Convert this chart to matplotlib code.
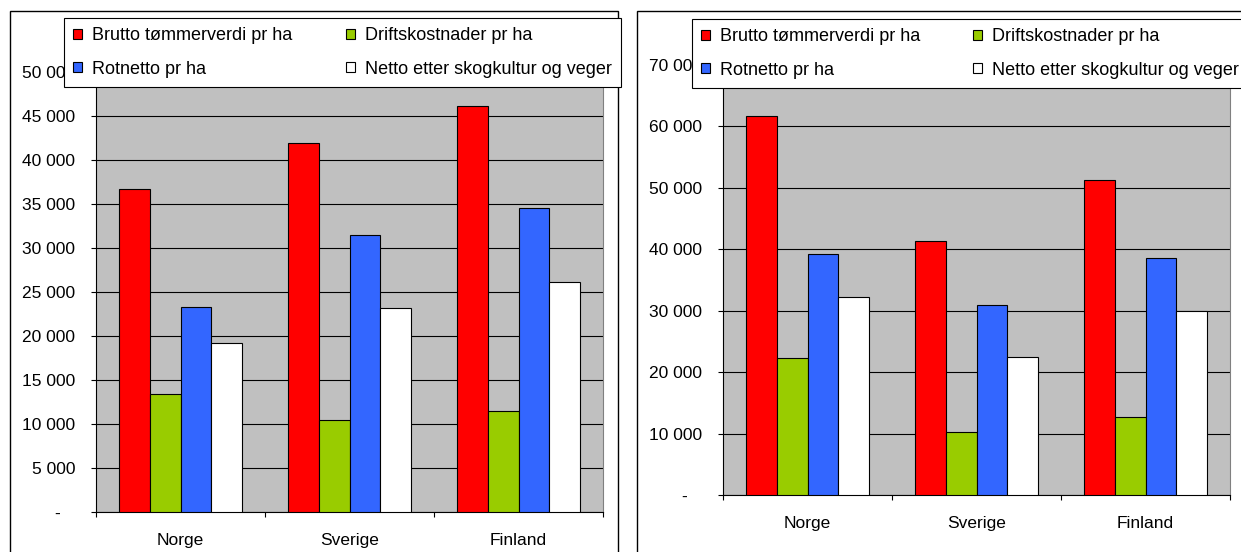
import matplotlib
matplotlib.use("Agg")
import matplotlib.pyplot as plt
import numpy as np
from matplotlib.patches import Patch, Rectangle
from matplotlib.ticker import FuncFormatter, MultipleLocator, FixedLocator

plt.rcParams['font.family'] = ['Liberation Sans', 'DejaVu Sans']

W, H = 1241, 552

countries = ["Norge", "Sverige", "Finland"]
series_names = ["Brutto tømmerverdi pr ha", "Driftskostnader pr ha",
                "Rotnetto pr ha", "Netto etter skogkultur og veger"]
series_colors = ["#FF0000", "#99CC00", "#3366FF", "#FFFFFF"]

# left chart (kr pr ha)
left_brutto = [36700, 41900, 46100]
left_drift = [13400, 10400, 11500]
left_rotnetto = [23300, 31500, 34600]
left_netto = [19200, 23200, 26100]

# right chart (kr pr ha)
right_brutto = [61700, 41300, 51300]
right_drift = [22300, 10200, 12700]
right_rotnetto = [39200, 30900, 38600]
right_netto = [32200, 22500, 29900]


def px_box(x0, y0, x1, y1):
    # pixel box (top-left origin) -> figure fraction [left, bottom, width, height]
    return [x0 / W, (H - y1) / H, (x1 - x0) / W, (y1 - y0) / H]


def fmt_tick(v, pos):
    if v == 0:
        return "-   "
    return f"{v:,.0f}".replace(",", " ")


def draw_chart(ax, series, ymax, ystep):
    x = np.arange(len(countries))
    bar_w = 0.183
    ax.set_facecolor("#C0C0C0")
    for i, vals in enumerate(series):
        ax.bar(x + (i - 1.5) * bar_w, vals, width=bar_w, color=series_colors[i],
               edgecolor="black", linewidth=0.8, zorder=3)
    ax.set_xlim(-0.5, len(countries) - 0.5)
    ax.set_ylim(0, ymax)
    ax.yaxis.set_major_locator(MultipleLocator(ystep))
    ax.yaxis.set_major_formatter(FuncFormatter(fmt_tick))
    ax.grid(axis="y", color="black", linewidth=0.8, zorder=1)
    ax.set_axisbelow(True)
    ax.set_xticks(x)
    ax.set_xticklabels(countries, fontsize=12.5)
    ax.xaxis.set_minor_locator(FixedLocator(np.arange(-0.5, len(countries), 1.0)))
    ax.tick_params(axis="x", which="major", length=0, pad=15)
    ax.tick_params(axis="x", which="minor", length=3.8, width=0.8, direction="out")
    ax.tick_params(axis="y", length=3.8, width=0.8, direction="out", pad=11, labelsize=12.5)
    for side in ["left", "bottom"]:
        ax.spines[side].set_color("black")
        ax.spines[side].set_linewidth(0.8)
    for side in ["top", "right"]:
        ax.spines[side].set_color("#808080")
        ax.spines[side].set_linewidth(0.8)


fig = plt.figure(figsize=(W / 100, H / 100), dpi=100)
fig.patch.set_facecolor("white")

# outer chart frames
for (x0, x1) in [(10, 618), (637, 1280)]:
    b = px_box(x0, 11, x1, 600)
    fig.add_artist(Rectangle((b[0], b[1]), b[2], b[3], transform=fig.transFigure,
                             facecolor="none", edgecolor="black", linewidth=1.0))

ax1 = fig.add_axes(px_box(96, 72, 603, 512))
draw_chart(ax1, [left_brutto, left_drift, left_rotnetto, left_netto], 50000, 5000)

ax2 = fig.add_axes(px_box(723, 65, 1230, 495))
draw_chart(ax2, [right_brutto, right_drift, right_rotnetto, right_netto], 70000, 10000)

handles = [Patch(facecolor=c, edgecolor="black", linewidth=0.8) for c in series_colors]
order = [0, 2, 1, 3]  # legend fills column-wise
for (x0, x1, y0) in [(64, 621, 18), (692, 1248, 19)]:
    b = px_box(x0, y0, x1, y0 + 67)
    leg = fig.legend([handles[i] for i in order], [series_names[i] for i in order],
                     loc="upper left", bbox_to_anchor=(b[0], b[1], b[2], b[3]),
                     bbox_transform=fig.transFigure, mode="expand", ncol=2,
                     fontsize=13, frameon=True, fancybox=False, framealpha=1,
                     edgecolor="black", borderaxespad=0, borderpad=0.52,
                     handlelength=0.5, handleheight=0.5, handletextpad=0.55,
                     labelspacing=0.9)
    leg.get_frame().set_linewidth(0.8)

fig.savefig("out.png", dpi=100)
